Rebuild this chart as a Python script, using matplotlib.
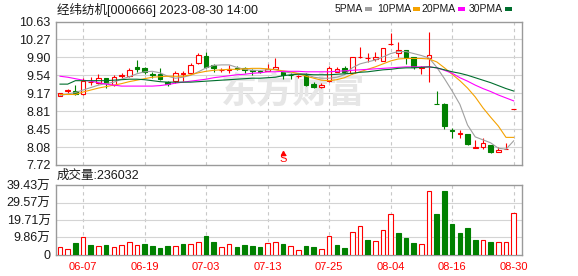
import matplotlib.pyplot as plt
import numpy as np

plt.rcParams['font.family'] = ['Liberation Sans', 'Noto Sans CJK SC']

# 经纬纺机 日K (06-02 ~ 08-30), 价格: 元
opens = [9.12, 9.22, 9.22, 9.15, 9.40, 9.39, 9.48, 9.34, 9.53, 9.53,
         9.71, 9.68, 9.57, 9.57, 9.41, 9.43, 9.57, 9.58, 9.78, 9.94,
         9.74, 9.64, 9.65, 9.68, 9.68, 9.64, 9.62, 9.63, 9.67, 9.60,
         9.55, 9.52, 9.56, 9.36, 9.30, 9.42, 9.61, 9.68, 9.58, 9.91,
         9.88, 9.86, 9.83, 10.17, 10.00, 10.05, 9.90, 9.69, 9.88, 8.96,
         8.96, 8.42, 8.35, 8.34, 8.07, 8.09, 8.13, 7.98, 8.04, 8.85]
closes = [9.17, 9.24, 9.16, 9.42, 9.41, 9.49, 9.39, 9.50, 9.55, 9.65,
          9.67, 9.60, 9.55, 9.46, 9.37, 9.58, 9.58, 9.74, 9.96, 9.71,
          9.69, 9.65, 9.66, 9.67, 9.65, 9.62, 9.60, 9.66, 9.71, 9.55,
          9.54, 9.53, 9.34, 9.31, 9.34, 9.68, 9.67, 9.61, 9.90, 9.92,
          9.89, 9.91, 10.09, 10.18, 10.05, 9.90, 9.70, 9.70, 9.95, 8.95,
          8.52, 8.40, 8.37, 8.15, 8.08, 8.16, 7.99, 8.02, 8.05, 8.85]
highs = [9.19, 9.27, 9.35, 9.49, 9.50, 9.56, 9.49, 9.55, 9.59, 9.68,
         9.84, 9.70, 9.61, 9.69, 9.43, 9.63, 9.63, 9.78, 9.99, 10.01,
         9.76, 9.68, 9.75, 9.72, 9.70, 9.66, 9.65, 9.77, 9.88, 9.62,
         9.59, 9.55, 9.58, 9.41, 9.39, 9.73, 9.71, 9.73, 9.91, 10.12,
         9.99, 10.02, 10.10, 10.39, 10.22, 10.06, 9.91, 9.73, 10.41, 9.23,
         8.97, 8.48, 8.42, 8.35, 8.23, 8.26, 8.13, 8.09, 8.16, 8.85]
lows = [9.11, 9.19, 9.14, 9.13, 9.34, 9.37, 9.28, 9.32, 9.49, 9.51,
        9.60, 9.57, 9.48, 9.45, 9.32, 9.38, 9.42, 9.56, 9.77, 9.68,
        9.60, 9.61, 9.59, 9.65, 9.59, 9.55, 9.59, 9.62, 9.66, 9.46,
        9.46, 9.48, 9.33, 9.28, 9.28, 9.41, 9.60, 9.60, 9.56, 9.88,
        9.81, 9.83, 9.82, 10.15, 9.90, 9.76, 9.66, 9.56, 9.41, 8.95,
        8.44, 8.26, 8.26, 8.12, 8.07, 8.04, 7.96, 7.98, 8.04, 8.85]

# 均线
ma5 = [9.13, 9.16, 9.19, 9.24, 9.29, 9.34, 9.37, 9.40, 9.46, 9.51,
       9.57, 9.61, 9.62, 9.59, 9.52, 9.48, 9.50, 9.54, 9.61, 9.69,
       9.74, 9.75, 9.75, 9.70, 9.66, 9.64, 9.64, 9.65, 9.66, 9.61,
       9.59, 9.58, 9.56, 9.50, 9.48, 9.48, 9.50, 9.55, 9.69, 9.77,
       9.81, 9.85, 9.91, 9.98, 10.02, 10.02, 9.98, 9.94, 9.89, 9.70,
       9.47, 9.22, 8.95, 8.53, 8.29, 8.23, 8.17, 8.06, 8.04, 8.21]
ma10 = [9.15, 9.15, 9.15, 9.20, 9.24, 9.28, 9.31, 9.34, 9.37, 9.41,
        9.44, 9.47, 9.50, 9.51, 9.52, 9.52, 9.52, 9.55, 9.59, 9.62,
        9.64, 9.65, 9.66, 9.66, 9.67, 9.68, 9.68, 9.67, 9.65, 9.63,
        9.61, 9.57, 9.52, 9.48, 9.44, 9.43, 9.45, 9.49, 9.56, 9.61,
        9.66, 9.71, 9.77, 9.83, 9.87, 9.88, 9.88, 9.88, 9.87, 9.81,
        9.69, 9.56, 9.43, 9.28, 9.10, 8.88, 8.69, 8.51, 8.28, 8.28]
ma20 = [9.52, 9.50, 9.47, 9.44, 9.42, 9.39, 9.36, 9.34, 9.32, 9.32,
        9.32, 9.32, 9.32, 9.33, 9.35, 9.38, 9.40, 9.42, 9.44, 9.46,
        9.49, 9.51, 9.53, 9.55, 9.56, 9.58, 9.59, 9.61, 9.61, 9.62,
        9.62, 9.62, 9.61, 9.61, 9.61, 9.61, 9.62, 9.63, 9.64, 9.65,
        9.66, 9.67, 9.68, 9.69, 9.70, 9.71, 9.71, 9.71, 9.71, 9.69,
        9.64, 9.58, 9.49, 9.42, 9.34, 9.27, 9.21, 9.14, 9.08, 9.02]
ma30 = [9.36, 9.36, 9.43, 9.43, 9.43, 9.43, 9.43, 9.44, 9.45, 9.46,
        9.46, 9.45, 9.43, 9.41, 9.40, 9.40, 9.40, 9.40, 9.41, 9.42,
        9.43, 9.44, 9.45, 9.46, 9.47, 9.48, 9.48, 9.49, 9.50, 9.53,
        9.55, 9.56, 9.56, 9.55, 9.55, 9.55, 9.56, 9.57, 9.58, 9.60,
        9.61, 9.63, 9.65, 9.66, 9.68, 9.69, 9.69, 9.70, 9.71, 9.69,
        9.65, 9.61, 9.58, 9.54, 9.49, 9.44, 9.39, 9.33, 9.27, 9.22]

# 成交量 (万股) 及涨跌
volumes = [4.3, 3.2, 6.6, 10.0, 5.6, 4.9, 5.6, 4.3, 5.4, 7.1,
           5.4, 6.2, 5.1, 3.9, 5.1, 4.9, 6.2, 6.0, 7.1, 10.7,
           7.3, 4.3, 6.0, 4.5, 5.6, 5.1, 4.5, 6.8, 7.1, 6.2,
           5.1, 2.8, 5.1, 4.5, 3.4, 10.5, 5.6, 3.9, 13.0, 16.2,
           8.5, 7.9, 14.1, 22.9, 12.4, 9.6, 6.8, 6.2, 36.1, 23.3,
           36.1, 17.5, 12.4, 15.2, 8.5, 8.5, 7.3, 7.3, 7.3, 23.6]
vol_up = [1, 1, 0, 1, 0, 1, 0, 1, 1, 1,
          1, 0, 0, 0, 0, 1, 0, 1, 1, 0,
          0, 1, 1, 0, 0, 0, 0, 1, 1, 0,
          1, 1, 0, 0, 1, 1, 0, 0, 1, 1,
          0, 1, 1, 1, 0, 0, 0, 1, 1, 0,
          0, 0, 0, 0, 0, 1, 0, 1, 1, 1]

date_idx = [3, 11, 19, 27, 35, 43, 51, 59]
date_labels = ['06-07', '06-19', '07-03', '07-13', '07-25', '08-04', '08-16', '08-30']
price_labels = ['7.72', '8.08', '8.45', '8.81', '9.17', '9.54', '9.90', '10.27', '10.63']
vol_labels = ['0', '9.86万', '19.71万', '29.57万', '39.43万']
sell_idx = 29

RED = '#ff0000'
GREEN = '#008000'
GRID = '#d4d4d4'
EDGE = '#9a9a9a'

o = np.array(opens); c = np.array(closes); h = np.array(highs); l = np.array(lows)
x = np.arange(len(o))
up = c >= o

fig = plt.figure(figsize=(5.78, 2.76), dpi=100)
ax = fig.add_axes([0.0969, 0.4022, 0.8062, 0.5199])
axv = fig.add_axes([0.0969, 0.0761, 0.8062, 0.2536])

lo, hi = 7.72, 10.63
pticks = np.linspace(lo, hi, len(price_labels))
for a in (ax, axv):
    a.set_xlim(-0.52, len(x) + 0.08)
    for s in a.spines.values():
        s.set_color(EDGE)
        s.set_linewidth(1.0)
    a.tick_params(length=0, pad=4, labelsize=9, colors='#1a1a1a')
    a.set_xticks([])
    for d in date_idx:
        a.axvline(d, color='#c8c8c8', lw=0.8, ls=(0, (3, 3)), zorder=0)

ax.set_ylim(lo, hi)
ax.set_yticks(pticks, price_labels)
for p in pticks[1:-1]:
    ax.axhline(p, color=GRID, lw=0.8, zorder=0)

# 水印
ax.text(0.51, 0.51, '东方财富', transform=ax.transAxes, ha='center', va='center',
        fontsize=26, fontweight='bold', color='#e6e6e6', zorder=0,
        family=['Noto Sans CJK SC'])

# K线
body_lo = np.minimum(o, c)
body_hi = np.maximum(o, c)
body_h = np.maximum(body_hi - body_lo, 0.003)
ax.vlines(x[up], h[up], body_hi[up], color=RED, lw=0.8, zorder=2)
ax.vlines(x[up], body_lo[up], l[up], color=RED, lw=0.8, zorder=2)
ax.vlines(x[~up], l[~up], h[~up], color=GREEN, lw=0.8, zorder=2)
ax.bar(x[up], body_h[up], bottom=body_lo[up], width=0.6, facecolor='white',
       edgecolor=RED, linewidth=0.8, zorder=3)
ax.bar(x[~up], body_h[~up], bottom=body_lo[~up], width=0.6, facecolor=GREEN,
       edgecolor=GREEN, linewidth=0.8, zorder=3)

ma_colors = ['#a0a0a0', '#f5a200', '#ff00ff', '#006e2e']
for ma, col in zip([ma5, ma10, ma20, ma30], ma_colors):
    ax.plot(x, ma, color=col, lw=0.8, zorder=4)

# 卖出信号
ax.plot(sell_idx, 7.955, marker='^', ms=3, color=RED, zorder=5)
ax.text(sell_idx, 7.73, 'S', color=RED, fontsize=8, ha='center', va='bottom', zorder=5)

# 成交量
v = np.array(volumes)
vu = np.array(vol_up) == 1
axv.set_ylim(0, 39.43)
vticks = np.linspace(0, 39.43, len(vol_labels))
axv.set_yticks(vticks, vol_labels)
for p in vticks[1:-1]:
    axv.axhline(p, color=GRID, lw=0.8, zorder=0)
axv.bar(x[vu], v[vu], width=0.6, facecolor='white', edgecolor=RED, linewidth=0.8, zorder=3)
axv.bar(x[~vu], v[~vu], width=0.6, facecolor=GREEN, edgecolor=GREEN, linewidth=0.8, zorder=3)

for d, lab in zip(date_idx, date_labels):
    axv.text(d, -0.17, lab, transform=axv.get_xaxis_transform(), ha='center', va='center',
             fontsize=8, color=RED)

# 标题 / 图例
fig.text(57 / 578, 1 - 10 / 276, '经纬纺机[000666] 2023-08-30 14:00', fontsize=9,
         va='center', ha='left', color='#1a1a1a')
fig.text(57 / 578, 1 - 176 / 276, '成交量:236032', fontsize=9, va='center', ha='left',
         color='#1a1a1a')

leg_names = ['5PMA', '10PMA', '20PMA', '30PMA']
sw_x = [365, 413, 458, 505]
for name, sx, col in zip(leg_names, sw_x, ma_colors):
    fig.text((sx - 2) / 578, 1 - 9 / 276, name, fontsize=7.5, va='center', ha='right',
             color='#1a1a1a')
    fig.add_artist(plt.Rectangle((sx / 578, 1 - 10.5 / 276), 7 / 578, 3 / 276,
                                 transform=fig.transFigure, color=col, lw=0))

fig.savefig('out.png', dpi=100, facecolor='white')
